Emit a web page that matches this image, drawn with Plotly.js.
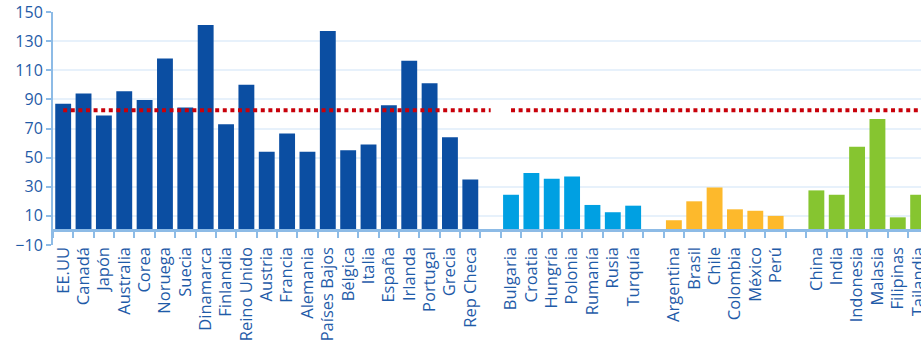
<!DOCTYPE html>
<html>
<head>
<meta charset="utf-8">
<script src="https://cdn.plot.ly/plotly-3.0.1.min.js"></script>
<style>
  html, body { margin: 0; padding: 0; background: #ffffff; }
  #chart { width: 921px; height: 343px; }
</style>
</head>
<body>
<div id="chart"></div>
<script>
// Country groups and their values
const desarrollados = ["EE.UU", "Canadá", "Japón", "Australia", "Corea", "Noruega", "Suecia",
  "Dinamarca", "Finlandia", "Reino Unido", "Austria", "Francia", "Alemania", "Países Bajos",
  "Bélgica", "Italia", "España", "Irlanda", "Portugal", "Grecia", "Rep Checa"];
const valDesarrollados = [87, 94, 79, 95.5, 89.5, 118, 84.5, 141, 73, 100, 54, 66.5, 54, 137,
  55, 59, 86, 116.5, 101, 64, 35];

const europaEmergente = ["Bulgaria", "Croatia", "Hungría", "Polonia", "Rumanía", "Rusia", "Turquía"];
const valEuropaEmergente = [24.5, 39.5, 35.5, 37, 17.5, 12.5, 17];

const latam = ["Argentina", "Brasil", "Chile", "Colombia", "México", "Perú"];
const valLatam = [7, 20, 29.5, 14.5, 13.5, 10];

const asia = ["China", "India", "Indonesia", "Malasia", "Filipinas", "Tailandia"];
const valAsia = [27.5, 24.5, 57.5, 76.5, 9, 24.5];

// Reference level drawn as a dotted line
const media = 82.5;

// Empty slots that separate the groups on the category axis
const hueco1 = " ", hueco2 = "  ", hueco3 = "   ";
const categorias = [].concat(desarrollados, [hueco1], europaEmergente, [hueco2], latam, [hueco3], asia);

const yRango = [-10, 150];

const colorEtiqueta = "#1f5ba8";
const colorEje = "#8dbbe6";

function barras(x, y, color) {
  return { type: "bar", x: x, y: y, marker: { color: color }, hoverinfo: "x+y", showlegend: false };
}

const tramo1 = desarrollados.concat([hueco1]);
const tramo2 = europaEmergente.concat([hueco2], latam, [hueco3], asia);

function linea(x) {
  return {
    type: "scatter", mode: "lines", x: x, y: x.map(() => media),
    line: { color: "#c8000a", width: 4, dash: "4px,3.6px" },
    hoverinfo: "skip", showlegend: false
  };
}

const data = [
  barras(desarrollados, valDesarrollados, "#0b4ea2"),
  barras(europaEmergente, valEuropaEmergente, "#00a0e2"),
  barras(latam, valLatam, "#fdb92c"),
  barras(asia, valAsia, "#86c530"),
  linea(tramo1),
  linea(tramo2)
];

const layout = {
  width: 921, height: 343,
  margin: { l: 53, r: 0, t: 12, b: 98 },
  paper_bgcolor: "#ffffff", plot_bgcolor: "#ffffff",
  font: { family: "Open Sans, sans-serif", size: 16, color: colorEtiqueta },
  bargap: 0.22,
  xaxis: {
    type: "category",
    categoryorder: "array", categoryarray: categorias,
    range: [-0.5, 42.14],
    anchor: "free",
    position: (0 - yRango[0]) / (yRango[1] - yRango[0]),
    showline: true, linecolor: colorEje, linewidth: 3,
    ticks: "outside", tickson: "boundaries", ticklen: 6, tickwidth: 2, tickcolor: colorEje,
    showgrid: false, zeroline: false,
    tickangle: -90,
    tickfont: { size: 16.5, color: colorEtiqueta },
    ticklabelstandoff: 8
  },
  yaxis: {
    range: yRango,
    tick0: -10, dtick: 20,
    showline: true, linecolor: colorEje, linewidth: 2,
    ticks: "outside", ticklen: 5, tickwidth: 2, tickcolor: colorEje,
    showgrid: true, gridcolor: "#e7f1fb", gridwidth: 2,
    zeroline: false,
    tickfont: { size: 16, color: colorEtiqueta }
  }
};

Plotly.newPlot("chart", data, layout, { displayModeBar: false, staticPlot: true });
</script>
</body>
</html>
